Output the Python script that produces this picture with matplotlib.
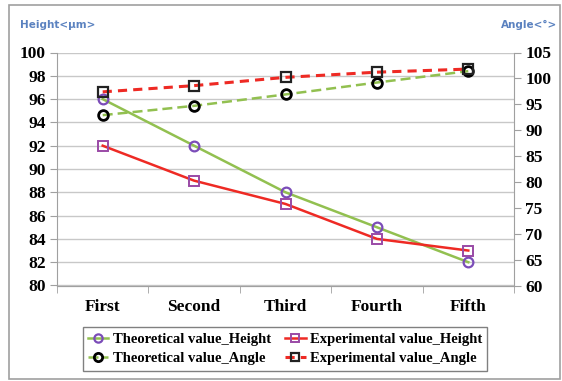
import matplotlib
matplotlib.use("Agg")
import matplotlib.pyplot as plt

categories = ["First", "Second", "Third", "Fourth", "Fifth"]
theo_height = [96, 92, 88, 85, 82]
exp_height = [92, 89, 87, 84, 83]
theo_angle = [92.9, 94.7, 96.9, 99.2, 101.4]
exp_angle = [97.4, 98.6, 100.2, 101.2, 101.8]
left_ticks = list(range(80, 101, 2))
right_ticks = list(range(60, 106, 5))

serif = ["Liberation Serif", "DejaVu Serif"]
green = "#92c050"
red = "#ee2a24"
purple = "#7b4cb8"
magenta = "#9a4aa6"

fig = plt.figure(figsize=(5.62, 3.81), dpi=100)
fig.patches.append(plt.Rectangle((9/562, 0.005), (560-9)/562, 1-5/381-0.005,
                                 transform=fig.transFigure, fill=False,
                                 edgecolor="#a0a0a0", lw=1.2))

ax = fig.add_axes([57/562, 1-285.5/381, (514-57)/562, 233/381])
ax2 = ax.twinx()
x = list(range(len(categories)))

ax.set_xlim(-0.5, len(categories)-0.5)
ax.set_ylim(80, 100)
ax2.set_ylim(60, 105)
ax.set_yticks(left_ticks)
ax2.set_yticks(right_ticks)
ax.yaxis.grid(True, color="#c8c8c8", lw=1)
ax.set_axisbelow(True)

for a in (ax, ax2):
    a.spines["top"].set_visible(False)
    for s in ("left", "right", "bottom"):
        a.spines[s].set_color("#a0a0a0")
ax2.spines["left"].set_visible(False)
ax.spines["right"].set_visible(False)

ax.set_xticks(x)
ax.set_xticklabels(categories, fontfamily=serif, fontweight="bold", fontsize=12.5)
ax.tick_params(axis="x", length=0, pad=10)
ax.set_xticks([i - 0.5 for i in range(len(categories)+1)], minor=True)
ax.tick_params(axis="x", which="minor", length=5, color="#a0a0a0", direction="out")
ax.tick_params(axis="y", length=5, color="#a0a0a0", pad=3)
ax2.tick_params(axis="y", length=5, color="#a0a0a0", pad=3)
for lab in ax.get_yticklabels() + ax2.get_yticklabels():
    lab.set_fontfamily(serif)
    lab.set_fontweight("bold")
    lab.set_fontsize(12.5)

ms = 7
l1, = ax.plot(x, theo_height, color=green, lw=1.8, marker="o", ms=ms,
              mfc="none", mec=purple, mew=1.6, label="Theoretical value_Height")
l2, = ax.plot(x, exp_height, color=red, lw=1.8, marker="s", ms=ms,
              mfc="none", mec=magenta, mew=1.4, label="Experimental value_Height")
l3, = ax2.plot(x, theo_angle, color=green, lw=1.8, ls=(0, (4, 2)), marker="o", ms=ms,
               mfc="none", mec="black", mew=2, label="Theoretical value_Angle")
l4, = ax2.plot(x, exp_angle, color=red, lw=2.2, ls=(0, (3, 2)), marker="s", ms=ms,
               mfc="none", mec="#222222", mew=1.6, label="Experimental value_Angle")

leg = fig.legend([l1, l3, l2, l4],
                 [l.get_label() for l in (l1, l3, l2, l4)],
                 ncol=2, loc="center", bbox_to_anchor=(285/562, 1-349/381),
                 prop={"family": serif, "weight": "bold", "size": 10.5},
                 frameon=True, fancybox=False, edgecolor="#606060",
                 handlelength=1.4, handletextpad=0.3, columnspacing=1.0,
                 labelspacing=0.45, borderpad=0.35, markerscale=0.85)
leg.get_frame().set_linewidth(1.0)

fig.text(20/562, 1-25/381, "Height<μm>", color="#5b82c0", fontsize=7.5,
         fontweight="bold", ha="left", va="center")
fig.text(557/562, 1-25/381, "Angle<°>", color="#5b82c0", fontsize=7.5,
         fontweight="bold", ha="right", va="center")

fig.savefig("out.png", dpi=100)
